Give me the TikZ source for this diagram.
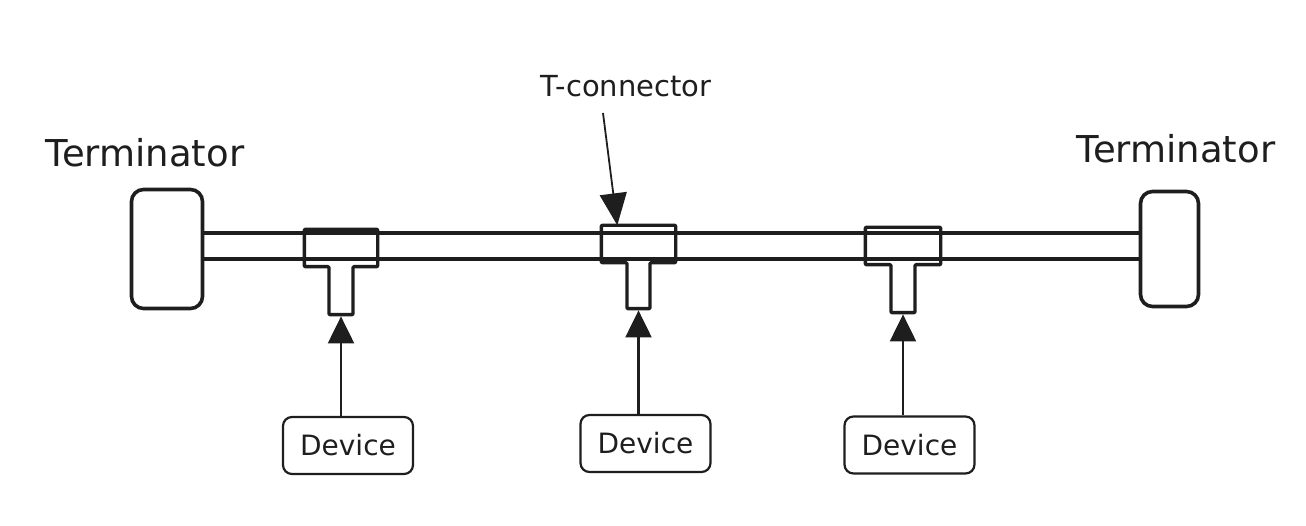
\documentclass[tikz,border=0pt]{standalone}
\usepackage{fontspec}
\setmainfont{DejaVu Sans}
\usetikzlibrary{arrows.meta}
\definecolor{ink}{HTML}{1E1E1E}
\begin{document}
\begin{tikzpicture}[x=1pt,y=-1pt,
  term/.style={draw=ink, line width=3.6pt, rounded corners=12pt, inner sep=0pt},
  tgeo/.style={inner sep=0pt},
  tshape/.style={draw=ink, line width=3.4pt, rounded corners=1pt, line join=round},
  dev/.style={draw=ink, line width=2.2pt, rounded corners=9pt, minimum width=130pt, minimum height=57pt, inner sep=0pt, text=ink, font=\fontsize{28}{30}\selectfont},
  lbl/.style={text=ink, inner sep=0pt},
  feed/.style={draw=ink, line width=2.2pt, -{Triangle[length=27pt,width=26pt]}},
  bus/.style={draw=ink, line width=3.2pt}]

\useasboundingbox (0,0) rectangle (1306,526);

% terminators
\node[term, minimum width=71pt, minimum height=119pt] (tl) at (167,249) {};
\node[term, minimum width=58pt, minimum height=115pt] (tr) at (1169.5,249) {};
\node[lbl, font=\fontsize{37}{40}\selectfont] (ltl) at (145,153) {Terminator};
\node[lbl, font=\fontsize{37}{40}\selectfont] (ltr) at (1176,149) {Terminator};

% bus
\draw[bus] ([yshift=16pt]tl.east) -- ([yshift=16pt]tr.west);
\draw[bus] ([yshift=-10pt]tl.east) -- ([yshift=-10pt]tr.west);

% T-connectors (geometry nodes, outlined as one T shape)
\node[tgeo, minimum width=73pt, minimum height=37pt] (t1) at (341,248) {};
\node[tgeo, minimum width=74pt, minimum height=37pt] (t2) at (638.5,244) {};
\node[tgeo, minimum width=75pt, minimum height=37pt] (t3) at (903,246) {};
\draw[tshape] (t1.north west) -- (t1.north east) -- (t1.south east) -- ([xshift=12pt]t1.south) -- ++(0,48) -- ++(-24,0) -- ([xshift=-12pt]t1.south) -- (t1.south west) -- cycle;
\draw[tshape] (t2.north west) -- (t2.north east) -- (t2.south east) -- ([xshift=11.5pt]t2.south) -- ++(0,46) -- ++(-23,0) -- ([xshift=-11.5pt]t2.south) -- (t2.south west) -- cycle;
\draw[tshape] (t3.north west) -- (t3.north east) -- (t3.south east) -- ([xshift=12pt]t3.south) -- ++(0,48) -- ++(-24,0) -- ([xshift=-12pt]t3.south) -- (t3.south west) -- cycle;
\coordinate (s1) at ([yshift=-49.7pt]t1.south);
\coordinate (s2) at ([yshift=-47.7pt]t2.south);
\coordinate (s3) at ([yshift=-49.7pt]t3.south);

% devices
\node[dev] (d1) at (348,445.5) {Device};
\node[dev] (d2) at (645.5,443.5) {Device};
\node[dev] (d3) at (909.5,445) {Device};

\draw[feed] (d1.north -| s1) -- (s1);
\draw[feed] (d2.north -| s2) -- (s2);
\draw[feed] (d3.north -| s3) -- (s3);

% T-connector label
\node[lbl, font=\fontsize{29}{32}\selectfont] (tcl) at (626,86) {T-connector};
\coordinate (ta) at (603,113);
\draw[draw=ink, line width=1.8pt, -{Triangle[length=32pt,width=27pt]}] (ta) -- ([xshift=16pt,yshift=0pt]t2.north west);
\end{tikzpicture}
\end{document}
